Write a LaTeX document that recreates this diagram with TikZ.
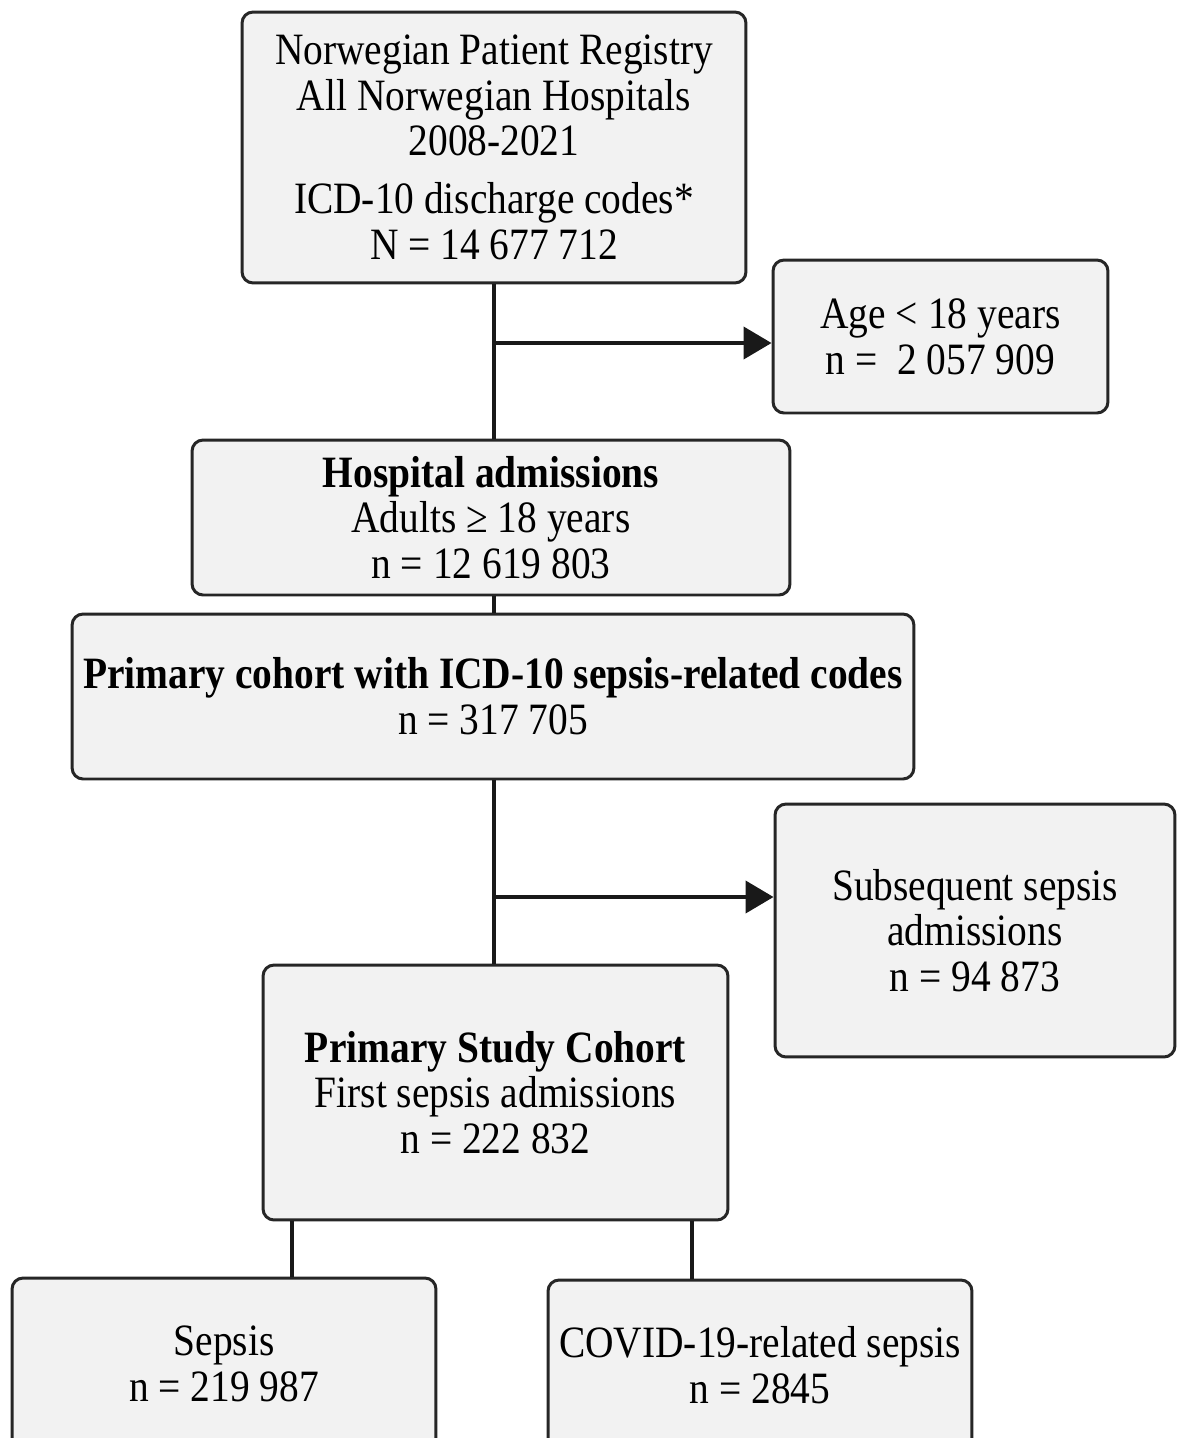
\documentclass[tikz,border=0pt]{standalone}
\usepackage{fontspec}
\setmainfont{Liberation Serif}[FakeStretch=0.88]
\usetikzlibrary{arrows.meta,positioning,calc}

\begin{document}
\begin{tikzpicture}[x=0.02cm, y=-0.02cm,
      box/.style={draw=black!85, line width=1.7pt, rounded corners=0.22cm, fill=gray!10,
                  align=center, inner sep=0pt, font=\fontsize{25.5pt}{26pt}\selectfont},
      link/.style={line width=2.3pt, black!90},
      arr/.style={link, -{Triangle[length=0.56cm, width=0.64cm]}}
    ]
    \useasboundingbox (0,0) rectangle (1177,1438);
    \node[box, minimum width=10.08cm, minimum height=5.42cm] (registry) at (494,147.5)
      {Norwegian Patient Registry\\All Norwegian Hospitals\\2008-2021\\[7pt]ICD-10 discharge codes*\\N = 14 677 712};
    \node[box, minimum width=6.70cm, minimum height=3.06cm] (minors) at (940.5,336.5)
      {Age < 18 years\\n = \ 2 057 909};
    \node[box, minimum width=11.96cm, minimum height=3.10cm] (adults) at (491,517.5)
      {\textbf{Hospital admissions}\\Adults ≥ 18 years\\n = 12 619 803};
    \node[box, minimum width=16.84cm, minimum height=3.30cm] (sepcodes) at (493,696.5)
      {\textbf{Primary cohort with ICD-10 sepsis-related codes}\\n = 317 705};
    \node[box, minimum width=8.00cm, minimum height=5.06cm] (repeat) at (975,930.5)
      {Subsequent sepsis\\admissions\\n = 94 873};
    \node[box, minimum width=9.30cm, minimum height=5.10cm] (study) at (495.5,1092.5)
      {\textbf{Primary Study Cohort}\\First sepsis admissions\\n = 222 832};
    \node[box, minimum width=8.48cm, minimum height=3.44cm] (sepsis) at (224,1364)
      {Sepsis\\n = 219 987};
    \node[box, minimum width=8.48cm, minimum height=3.40cm] (covid) at (760,1365)
      {COVID-19-related sepsis\\n = 2845};
    \coordinate (split1) at (494,343);
    \coordinate (split2) at (494,897);
    \draw[link] (registry.south) -- (registry.south |- adults.north);
    \draw[arr] (split1) -- (split1 -| minors.west);
    \draw[link] (adults.south -| registry.south) -- (registry.south |- sepcodes.north);
    \draw[link] (sepcodes.south -| registry.south) -- (registry.south |- study.north);
    \draw[arr] (split2) -- (split2 -| repeat.west);
    \draw[link] ([xshift=0.6cm]study.south west) -- ([xshift=0.6cm]study.south west |- sepsis.north);
    \draw[link] ([xshift=-0.74cm]study.south east) -- ([xshift=-0.74cm]study.south east |- covid.north);
  \end{tikzpicture}
\end{document}
